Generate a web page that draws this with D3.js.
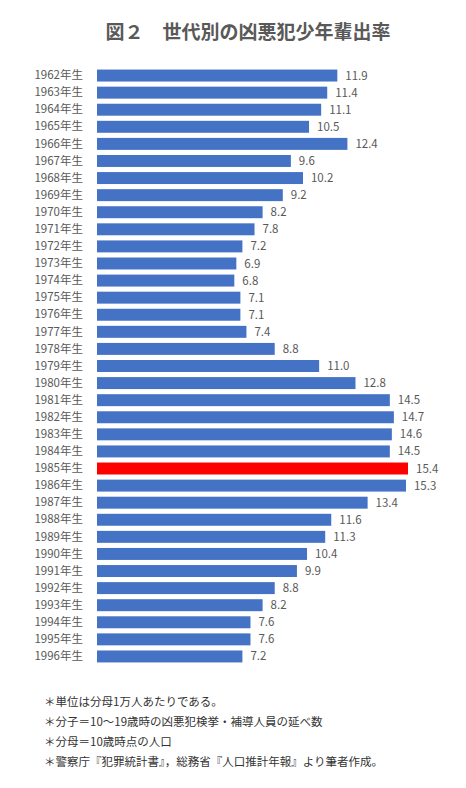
<!DOCTYPE html>
<meta charset="utf-8">
<style>
body { margin: 0; background: #fff; }
svg { display: block; }
.title { font-family: "Noto Sans CJK JP"; font-weight: bold; font-size: 19px; fill: #595959; }
.year text, .val { font-family: "Noto Sans CJK JP", "Open Sans"; font-size: 11.5px; fill: #595959; }
.note { font-family: "Noto Sans CJK JP"; font-size: 11.5px; fill: #333; }
</style>
<svg width="466" height="788"></svg>
<script src="https://d3js.org/d3.v7.min.js"></script>
<script>

var years = d3.range(1962, 1997).map(function(y) { return y + "年生"; });
var rates = [11.9, 11.4, 11.1, 10.5, 12.4, 9.6, 10.2, 9.2, 8.2, 7.8,
             7.2, 6.9, 6.8, 7.1, 7.1, 7.4, 8.8, 11.0, 12.8, 14.5,
             14.7, 14.6, 14.5, 15.4, 15.3, 13.4, 11.6, 11.3, 10.4, 9.9,
             8.8, 8.2, 7.6, 7.6, 7.2];
var highlight = "1985年生";
var notes = [
  "＊単位は分母1万人あたりである。",
  "＊分子＝10～19歳時の凶悪犯検挙・補導人員の延べ数",
  "＊分母＝10歳時点の人口",
  "＊警察庁『犯罪統計書』，総務省『人口推計年報』より筆者作成。"
];

var svg = d3.select("svg"),
    margin = {top: 67, left: 97};

var x = d3.scaleLinear().domain([0, 15.4]).range([0, 311]);
var y = d3.scaleBand().domain(years).range([0, 598]).paddingInner(0.3).paddingOuter(0.15);

svg.append("text")
    .attr("class", "title")
    .attr("x", 248)
    .attr("y", 39)
    .attr("text-anchor", "middle")
    .text("図２　世代別の凶悪犯少年輩出率");

var g = svg.append("g")
    .attr("transform", "translate(" + margin.left + "," + margin.top + ")");

var yAxis = g.append("g")
    .attr("class", "year")
    .call(d3.axisLeft(y).tickSize(0).tickPadding(14));
yAxis.select(".domain").remove();

var data = years.map(function(d, i) { return {year: d, v: rates[i]}; });

g.selectAll(".bar")
  .data(data)
  .enter().append("rect")
    .attr("class", "bar")
    .attr("x", 0)
    .attr("y", function(d) { return y(d.year); })
    .attr("width", function(d) { return x(d.v); })
    .attr("height", y.bandwidth())
    .attr("fill", function(d) { return d.year == highlight ? "#ff0000" : "#4472c4"; });

g.selectAll(".val")
  .data(data)
  .enter().append("text")
    .attr("class", "val")
    .attr("x", function(d) { return x(d.v) + 8; })
    .attr("y", function(d) { return y(d.year) + y.bandwidth() / 2; })
    .attr("dy", "0.35em")
    .text(function(d) { return d.v.toFixed(1); });

svg.selectAll(".note")
  .data(notes)
  .enter().append("text")
    .attr("class", "note")
    .attr("x", 44)
    .attr("y", function(d, i) { return 706 + i * 20; })
    .text(function(d) { return d; });

</script>
